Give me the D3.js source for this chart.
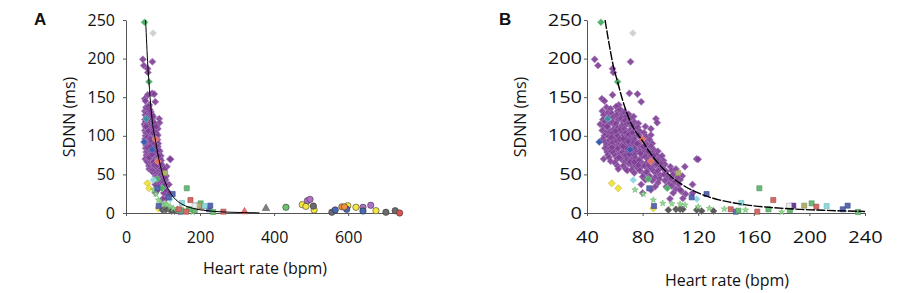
<!DOCTYPE html>
<head>
<meta charset="utf-8">
<title>SDNN vs heart rate</title>
<script src="https://cdn.jsdelivr.net/npm/d3@7"></script>
<style>
body { margin: 0; background: #fff; }
text { font-family: "Open Sans", Lato, sans-serif; fill: #111; }
</style>
</head>
<body>
<script>
// ---- data: [heart rate (bpm), SDNN (ms)] ----
var purple = [
  [45.5,199],[47.9,191],[58.4,187],[59,182],[71.3,196],[70.5,155],[76.3,154],[58.4,153],[50.7,148],[52.6,145],
  [79,144],[62.9,140],[67.7,126],[89.6,122],[90.5,117],[86,109],[49.5,115],[52,70],[118.8,70],[110.4,60],
  [108.5,48],[115.9,37],[108,28],[109,19],[99.7,18.5],[80,26],[111,24.6],[116,26],[107,43],[120,69.5],
  [51,132],[52,127],[51.5,121],[53,118],[52,112],[51,107],[53.5,104],[52.5,100],[51.5,96],[53,92],
  [54,88],[53,84],[54.5,79],[55,75],[54,137],[55,130],[55.5,124],[56,116],[55,110],[56.5,105],
  [55.5,99],[56,94],[57,89],[56.5,84],[57.5,80],[56,72],[57,67],
  [57,135],[58,129],[59,124],[58.5,118],[60,113],[59,108],[58,103],[60.5,99],[59.5,95],[58.5,91],
  [60,86],[61,82],[59,78],[60.5,74],[61.5,70],[60,65],[62,61],[61,138],[62,132],[61.5,127],
  [62.5,121],[61,116],[62,110],[63,105],[62,100],[61.5,93],[63,88],[62.5,84],[63.5,77],[62.5,57],
  [64,134],[65,128],[64.5,123],[66,118],[65,113],[64,108],[66,104],[65.5,99],[64.5,95],[66.5,91],
  [65,87],[67,83],[65.5,79],[66.5,74],[64.5,70],[67,66],[66,61],[68,57],[67,131],[68,125],
  [67.5,120],[68.5,115],[67,109],[68,104],[69,100],[68,96],[67.5,92],[69,88],[68.5,84],[69.5,79],
  [68,75],[69,70],[70,64],[69,55],
  [70,128],[71,122],[70.5,117],[72,112],[71,107],[70,102],[72,98],[71.5,94],[70.5,90],[72.5,86],
  [71,82],[73,78],[71.5,74],[72.5,69],[71,66],[73,61],[72,56],[74,52],[73.5,125],[74,118],
  [73,113],[74.5,108],[73.5,103],[75,99],[74,95],[73.5,91],[75,87],[74.5,83],[75.5,79],[74,75],
  [75,71],[76,66],[75,62],[76.5,58],
  [77,116],[76.5,111],[78,106],[77,101],[79,97],[78,92],[77.5,88],[79,84],[78,80],[80,76],
  [79,72],[77.5,68],[80,64],[79,60],[78,55],[81,51],[80,47],[82,112],[81,104],[82.5,99],
  [81,94],[83,89],[82,85],[81.5,81],[83,77],[82,73],[84,69],[83,65],[81.5,61],[84,57],
  [83,53],[85,48],[82,43],[79,37],
  [86,101],[85,95],[87,90],[86,86],[88,82],[87,78],[86,74],[88.5,70],[87.5,66],[89,62],
  [86.5,58],[88,54],[90,51],[89,46],[87,42],[91,80],[90,75],[92,71],[91,67],[90.5,63],
  [92.5,59],[91,55],[93,49],[92,44],[91,39],[89,34],[86,30],
  [94,74],[95,68],[96,63],[94.5,58],[97,54],[95.5,50],[98,46],[96,42],[99,38],[97,34],
  [100,60],[101,55],[102,50],[100.5,44],[103,40],[101,35],[104,31],[102,26],[105,46],[106,37],
  [104,57],[107,30],
  [54.5,112],[57.5,98],[60.5,106],[63.5,96],[66,96],[69.5,93],[72.5,104],[76,90],[78.5,77],[80.5,86],
  [84,80],[58,85],[63,72],[66,86],[70.5,76],[74,66],[77,62],[84.5,62],[88,74],[93,64]
];
var greenDiamond = [[50,247],[62,170],[84,44],[97.8,32]];
var greyDiamond = [[73,233]];
var blueDiamond = [[48.8,92],[71,82]];
var tealDiamond = [[54.9,122]];
var yellowDiamond = [[57.8,38.5],[62.5,32],[87.7,6]];
var cyanDiamond = [[73.3,42.7],[119,18]];
var redDiamond = [[79.8,95.5],[85.8,67]];
var darkDiamond = [[98.5,3.9],[104,4.8],[107,4.8],[108.9,4.8],[119,3.9],[122.5,2.6],[131,2.6]];
var greenStar = [[74.5,30],[80.5,24.6],[87.7,16.8],[94.5,12.5],[101,12],[107,11.7],[110.5,10.4],
  [120,8],[128,6],[138.8,5.2],[154,3.9],[171,4.8],[180,1.3]];
var blueSquare = [[84.8,32],[88.2,9],[126,24.6],[115.3,20.3],[147,1.7],[224,4.8],[227.5,9.5]];
var purpleSquare = [[188.4,9.5]];
var greenSquare = [[164,32],[170.5,4.8],[201.6,12.5],[235,1.3],[148.9,3],[186,3.9]];
var redSquare = [[143.4,4.8],[162.5,1.7],[174,16.8],[205,8.2],[263,1.7]];
var cyanSquare = [[151,13],[212.4,9]];
var oliveSquare = [[196.3,9.5],[105.6,51.7]];
var whiteSquare = [[185.3,9.5]];
var redTriangle = [[320,1.7]];
var greyTriangle = [[378,6]];
var greenCircle = [[432,7.4]];
var yellowCircle = [[476,10.8],[486,8.6],[508,3.9],[599,9.5],[621,7.4],[675,3]];
var purpleCircle = [[490,16],[497,17.7],[640,7.4],[661,10]];
var greyCircle = [[506,9],[556,1],[702,1],[727,3]];
var blueCircle = [[565,3.9],[596,4.8],[640,2.6]];
var orangeCircle = [[583,8],[590,8]];
var redCircle = [[739,0]];

// fitted trend line, read along its path
var trend = [[53,250],[56,218],[59,190],[62,170],[65,150],[68,133],[72,115],[76,103],[80,93],[85,79],
  [90,67],[95,57],[100,48],[110,35],[120,26],[130,19.5],[140,15],[150,11.8],[160,9.3],[175,6.8],
  [190,5],[210,3.5],[225,2.7],[240,2]];
var trendTail = [[270,1.2],[320,0.5],[360,0.2]];

var yTicks = [0,50,100,150,200,250];
var xTicksA = [0,200,400,600];
var xTicksB = [40,80,120,160,200,240];

// series table: data + marker style
var series = [
  {d: purple, s: "diamond", f: "#7d3d93", st: "#a77fbc", op: 0.9},
  {d: greenDiamond, s: "diamond", f: "#4fae6a", st: "#8fd0a0"},
  {d: greyDiamond, s: "diamond", f: "#d0d0d0", st: "#e4e4e4"},
  {d: blueDiamond, s: "diamond", f: "#3b5bab", st: "#7d8fcc"},
  {d: tealDiamond, s: "diamond", f: "#3f8fa0", st: "#80bcc8"},
  {d: yellowDiamond, s: "diamond", f: "#f0e24a", st: "#c8b830"},
  {d: cyanDiamond, s: "diamond", f: "#8fd8e0", st: "#b8e8ee"},
  {d: redDiamond, s: "diamond", f: "#e07060", st: "#f0a090"},
  {d: darkDiamond, s: "diamond", f: "#5a5a5a", st: "#7a7a7a"},
  {d: greenStar, s: "star", f: "#9ad89a", st: "#6ab86a"},
  {d: blueSquare, s: "square", f: "#5a68b0", st: "#3a4890"},
  {d: purpleSquare, s: "square", f: "#6a3a9a", st: "#4a2a7a"},
  {d: greenSquare, s: "square", f: "#6cb878", st: "#4a9858"},
  {d: redSquare, s: "square", f: "#d06a68", st: "#a84a48"},
  {d: cyanSquare, s: "square", f: "#90d8dc", st: "#70b8bc"},
  {d: oliveSquare, s: "square", f: "#b0b070", st: "#8a8a50"},
  {d: whiteSquare, s: "square", f: "#ececec", st: "#b0b0b0"},
  {d: redTriangle, s: "triangle", f: "#e87070", st: "#c05050"},
  {d: greyTriangle, s: "triangle", f: "#808080", st: "#606060"},
  {d: greenCircle, s: "circle", f: "#6cc070", st: "#3a3a3a"},
  {d: yellowCircle, s: "circle", f: "#f5e640", st: "#3a3a3a"},
  {d: purpleCircle, s: "circle", f: "#b070c8", st: "#3a3a3a"},
  {d: greyCircle, s: "circle", f: "#6a6a6a", st: "#3a3a3a"},
  {d: blueCircle, s: "circle", f: "#4a68b8", st: "#2a2a2a"},
  {d: orangeCircle, s: "circle", f: "#f09040", st: "#3a3a3a"},
  {d: redCircle, s: "circle", f: "#e05050", st: "#3a3a3a"}
];

var W = 900, H = 293;
var svg = d3.select("body").append("svg")
  .attr("width", W).attr("height", H)
  .attr("xmlns", "http://www.w3.org/2000/svg");

var sym = {
  diamond: d3.symbol().type(d3.symbolSquare).size(25),
  square: d3.symbol().type(d3.symbolSquare).size(26),
  star: d3.symbol().type(d3.symbolStar).size(12),
  triangle: d3.symbol().type(d3.symbolTriangle).size(24),
  circle: d3.symbol().type(d3.symbolCircle).size(32)
};

function panel(p) {
  var x = d3.scaleLinear().domain(p.xd).range([p.x0, p.x1]);
  var y = d3.scaleLinear().domain([0, 250]).range([213, 20]);
  var g = svg.append("g");
  var clipId = "clip" + p.letter;
  g.append("clipPath").attr("id", clipId).append("rect")
    .attr("x", p.x0 - 4).attr("y", 10).attr("width", p.x1 - p.x0 + 8).attr("height", 210);

  // axes
  var ya = g.append("g").attr("transform", "translate(" + p.x0 + ",0)")
    .call(d3.axisLeft(y).tickValues(yTicks).tickSize(3).tickPadding(p.yPad).tickSizeOuter(0));
  var xa = g.append("g").attr("transform", "translate(0,213)")
    .call(d3.axisBottom(x).tickValues(p.xt).tickSize(3).tickPadding(16).tickSizeOuter(0));
  [ya, xa].forEach(function(a) {
    a.selectAll("path, line").attr("stroke", "#555");
    a.selectAll("text").style("font-family", "'Open Sans'").style("font-size", "16px").attr("fill", "#111");
  });
  // panel B's tick labels are drawn wider in the original
  if (p.sx != 1) {
    ya.selectAll("text").attr("x", -(3 + p.yPad) / p.sx).attr("transform", "scale(" + p.sx + ",1)");
    xa.selectAll("text").attr("transform", "scale(" + p.sx + ",1)");
  }

  // points
  var pts = g.append("g").attr("clip-path", "url(#" + clipId + ")");
  series.forEach(function(s) {
    pts.selectAll(null).data(s.d.filter(function(d) { return d[0] >= p.xd[0] && d[0] <= p.xd[1]; }))
      .enter().append("path")
      .attr("d", sym[s.s])
      .attr("transform", function(d) {
        return "translate(" + x(d[0]) + "," + y(d[1]) + ")" + (s.s == "diamond" ? " rotate(45)" : "");
      })
      .attr("fill", s.f).attr("fill-opacity", s.op || 1)
      .attr("stroke", s.st).attr("stroke-width", 0.6);
  });

  // trend line
  var line = d3.line().x(function(d) { return x(d[0]); }).y(function(d) { return y(d[1]); })
    .curve(d3.curveMonotoneX);
  pts.append("path").datum(p.trend)
    .attr("d", line).attr("fill", "none").attr("stroke", "#000")
    .attr("stroke-width", p.lw).attr("stroke-dasharray", p.dash);

  // labels
  g.append("text").attr("transform", "translate(" + p.ylx + ",117) rotate(-90)")
    .attr("text-anchor", "middle").style("font-size", "16px").text("SDNN (ms)");
  g.append("text").attr("x", p.xlx).attr("y", p.xly)
    .attr("text-anchor", "middle").style("font-size", "16px").text("Heart rate (bpm)");
  g.append("text").attr("x", p.lx).attr("y", 25)
    .style("font-family", "'Liberation Sans', Arial, sans-serif").style("font-weight", "bold")
    .style("font-size", "17px").text(p.letter);
}

panel({letter: "A", xd: [0, 740], x0: 126, x1: 400, xt: xTicksA, yPad: 8, sx: 1,
  trend: trend.concat(trendTail), lw: 1, dash: null,
  ylx: 75, xlx: 265, xly: 274, lx: 34});
panel({letter: "B", xd: [40, 240], x0: 587, x1: 865, xt: xTicksB, yPad: 2, sx: 1.25,
  trend: trend, lw: 1.4, dash: "9,1.5",
  ylx: 526, xlx: 727, xly: 286, lx: 499});
</script>
</body>
